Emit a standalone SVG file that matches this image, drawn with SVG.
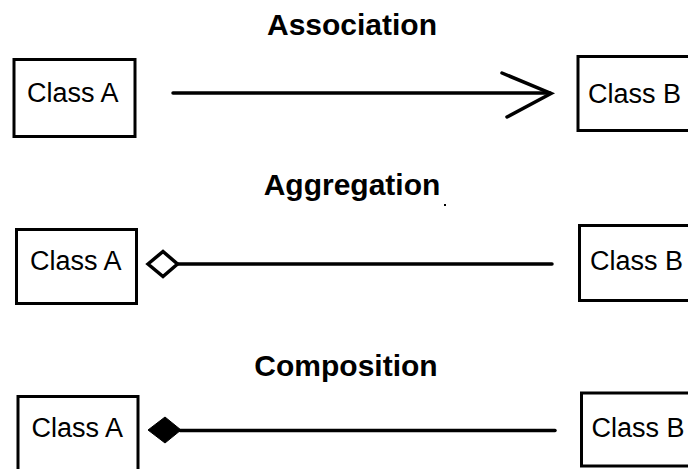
<svg xmlns="http://www.w3.org/2000/svg" width="688" height="469" viewBox="0 0 688 469">
<style>
.box{fill:#fff;stroke:#000;stroke-width:3}
.lbl{font-family:"Liberation Sans",Arial,sans-serif;font-size:27px;fill:#000}
.ttl{font-family:"Liberation Sans",Arial,sans-serif;font-size:30px;font-weight:bold;fill:#000;text-anchor:middle}
.ln{stroke:#000;stroke-width:3.5;fill:none;stroke-linecap:round}
</style>
<rect width="688" height="469" fill="#fff"/>
<g id="titles">
<text class="ttl" x="352" y="35">Association</text>
<text class="ttl" x="352" y="195">Aggregation</text>
<text class="ttl" x="346" y="376">Composition</text>
<rect x="444" y="204" width="2" height="2" fill="#000"/>
</g>
<g id="assoc-a"><rect class="box" x="14" y="59.5" width="121" height="77"/><text class="lbl" x="27" y="102">Class A</text></g>
<g id="assoc-b"><rect class="box" x="578" y="56.5" width="130" height="74"/><text class="lbl" x="588" y="103">Class B</text></g>
<g id="aggr-a"><rect class="box" x="16.5" y="229.5" width="120" height="74"/><text class="lbl" x="30" y="270">Class A</text></g>
<g id="aggr-b"><rect class="box" x="579.5" y="225.5" width="130" height="75"/><text class="lbl" x="590" y="270">Class B</text></g>
<g id="comp-a"><rect class="box" x="18" y="396.5" width="120" height="100"/><text class="lbl" x="31.5" y="437">Class A</text></g>
<g id="comp-b"><rect class="box" x="581.5" y="393" width="130" height="73"/><text class="lbl" x="591.5" y="437">Class B</text></g>
<g id="connectors">
<line class="ln" x1="173" y1="93" x2="550" y2="93"/>
<polyline class="ln" points="502,73 551,93.5 507,117" stroke-width="4"/>
<line class="ln" x1="178" y1="264" x2="552" y2="264"/>
<polygon points="148,264 163,251.5 177.5,264 163,276.5" fill="#fff" stroke="#000" stroke-width="3.5" stroke-linejoin="miter"/>
<line class="ln" x1="180" y1="430.5" x2="555" y2="430.5"/>
<polygon points="148,430 165,417 181,430 165,443" fill="#000" stroke="#000" stroke-width="1"/>
</g>
</svg>
